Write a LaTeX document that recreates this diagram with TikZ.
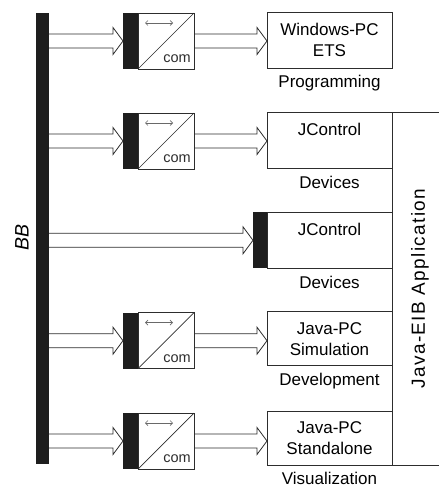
\documentclass[tikz,border=0pt]{standalone}
\usepackage{tikz}
\usepackage{fontspec}
\setmainfont{Liberation Sans}
\newfontfamily\spacedfont[LetterSpace=7]{Liberation Sans}
\definecolor{bbBar}{RGB}{30,30,30}
\definecolor{bbLine}{RGB}{45,45,45}
\definecolor{bbGrey}{RGB}{105,105,105}
\usetikzlibrary{arrows.meta,positioning,calc}

\begin{document}
\begin{tikzpicture}[x=1pt, y=-1pt,
    bar/.style={fill=bbBar, draw=none, inner sep=0pt, outer sep=0pt},
    conv/.style={draw=bbLine, line width=0.8pt, fill=white, minimum width=56pt,
        minimum height=56pt, inner sep=0pt, outer sep=0pt},
    unit/.style={draw=bbLine, line width=0.8pt, minimum width=125pt, minimum height=56pt,
        inner sep=0pt, outer sep=0pt, align=center, font=\fontsize{17}{21}\selectfont},
    caption/.style={inner sep=0pt, text height=12pt, text depth=4pt,
        font=\fontsize{17}{21}\selectfont},
    comtext/.style={inner sep=0pt, text=bbLine, font=\fontsize{14.5}{16}\selectfont},
    diag/.style={draw=bbLine, line width=0.7pt},
    both/.style={draw=bbGrey, line width=0.7pt, {Straight Barb[length=2.5pt,width=5pt]}-{Straight Barb[length=2.5pt,width=5pt]}},
    frame/.style={draw=bbLine, line width=0.8pt},
    fat/.style={draw=bbLine, line width=0.8pt,
        to path={($(\tikztostart)+(0,-7)$) -- ($(\tikztotarget)+(-10,-7)$) -- ++(0,-6.5)
            -- (\tikztotarget) -- ++(-10,13.5) -- ++(0,-6.5) -- ($(\tikztostart)+(0,7)$)}}]
    \useasboundingbox (0,0) rectangle (439,487);

    % Bus bar
    \node[bar, minimum width=13pt, minimum height=451pt] (bus) at (42.5,238.5) {};
    \node[rotate=90, inner sep=0pt, font=\itshape\fontsize{19.5}{21}\selectfont] (bb) at (22,237) {BB};

    % Interface couplers
    \node[bar, minimum width=15pt, minimum height=56pt] (s1) at (130.5,41) {};
    \node[conv, right=0pt of s1] (c1) {};
    \node[bar, minimum width=15pt, minimum height=56pt] (s2) at (130.5,141) {};
    \node[conv, right=0pt of s2] (c2) {};
    \node[bar, minimum width=15pt, minimum height=56pt] (s4) at (130.5,340.7) {};
    \node[conv, right=0pt of s4] (c4) {};
    \node[bar, minimum width=15pt, minimum height=56pt] (s5) at (130.5,441) {};
    \node[conv, right=0pt of s5] (c5) {};

    \draw[diag] (c1.south west) -- (c1.north east);
    \draw[both] ($(c1.north west)+(7,10)$) -- ($(c1.north west)+(35,10)$);
    \node[comtext, anchor=base east] (k1) at ($(c1.south east)+(-3,-6.5)$) {com};
    \draw[diag] (c2.south west) -- (c2.north east);
    \draw[both] ($(c2.north west)+(7,10)$) -- ($(c2.north west)+(35,10)$);
    \node[comtext, anchor=base east] (k2) at ($(c2.south east)+(-3,-6.5)$) {com};
    \draw[diag] (c4.south west) -- (c4.north east);
    \draw[both] ($(c4.north west)+(7,10)$) -- ($(c4.north west)+(35,10)$);
    \node[comtext, anchor=base east] (k4) at ($(c4.south east)+(-3,-6.5)$) {com};
    \draw[diag] (c5.south west) -- (c5.north east);
    \draw[both] ($(c5.north west)+(7,10)$) -- ($(c5.north west)+(35,10)$);
    \node[comtext, anchor=base east] (k5) at ($(c5.south east)+(-3,-6.5)$) {com};

    % Devices
    \node[unit] (u1) at (329.5,40.3) {Windows-PC\\ETS};
    \node[unit] (u2) at (329.5,140.3) {JControl\\\mbox{}};
    \node[unit] (u3) at (329.5,240.3) {JControl\\\mbox{}};
    \node[bar, minimum width=14pt, minimum height=56pt, left=0pt of u3] (s3) {};
    \node[unit, minimum height=54pt] (u4) at (329.5,338.7) {Java-PC\\Simulation};
    \node[unit, minimum height=54pt] (u5) at (329.5,438) {Java-PC\\Standalone};

    \node[caption, below=7.5pt of u1] (t1) {Programming};
    \node[caption, below=7.5pt of u2] (t2) {Devices};
    \node[caption, below=7.5pt of u3] (t3) {Devices};
    \node[caption, below=7.5pt of u4] (t4) {Development};
    \node[caption, below=7.5pt of u5] (t5) {Visualization};

    % Application frame
    \draw[frame] (u2.north east) -- ++(47,0);
    \draw[frame] (u2.north east) -- (u5.south east) -- ++(47,0);
    \node[rotate=90, inner sep=0pt, font=\spacedfont\fontsize{19}{21}\selectfont] (app) at (420,288.5) {Java-EIB Application};

    % Data flow
    \draw[fat] (bus.east |- s1.west) to (s1.west);
    \draw[fat] (c1.east) to (u1.west |- c1.east);
    \draw[fat] (bus.east |- s2.west) to (s2.west);
    \draw[fat] (c2.east) to (u2.west |- c2.east);
    \draw[fat] (bus.east |- s3.west) to (s3.west);
    \draw[fat] (bus.east |- s4.west) to (s4.west);
    \draw[fat] (c4.east) to (u4.west |- c4.east);
    \draw[fat] (bus.east |- s5.west) to (s5.west);
    \draw[fat] (c5.east) to (u5.west |- c5.east);
\end{tikzpicture}
\end{document}
